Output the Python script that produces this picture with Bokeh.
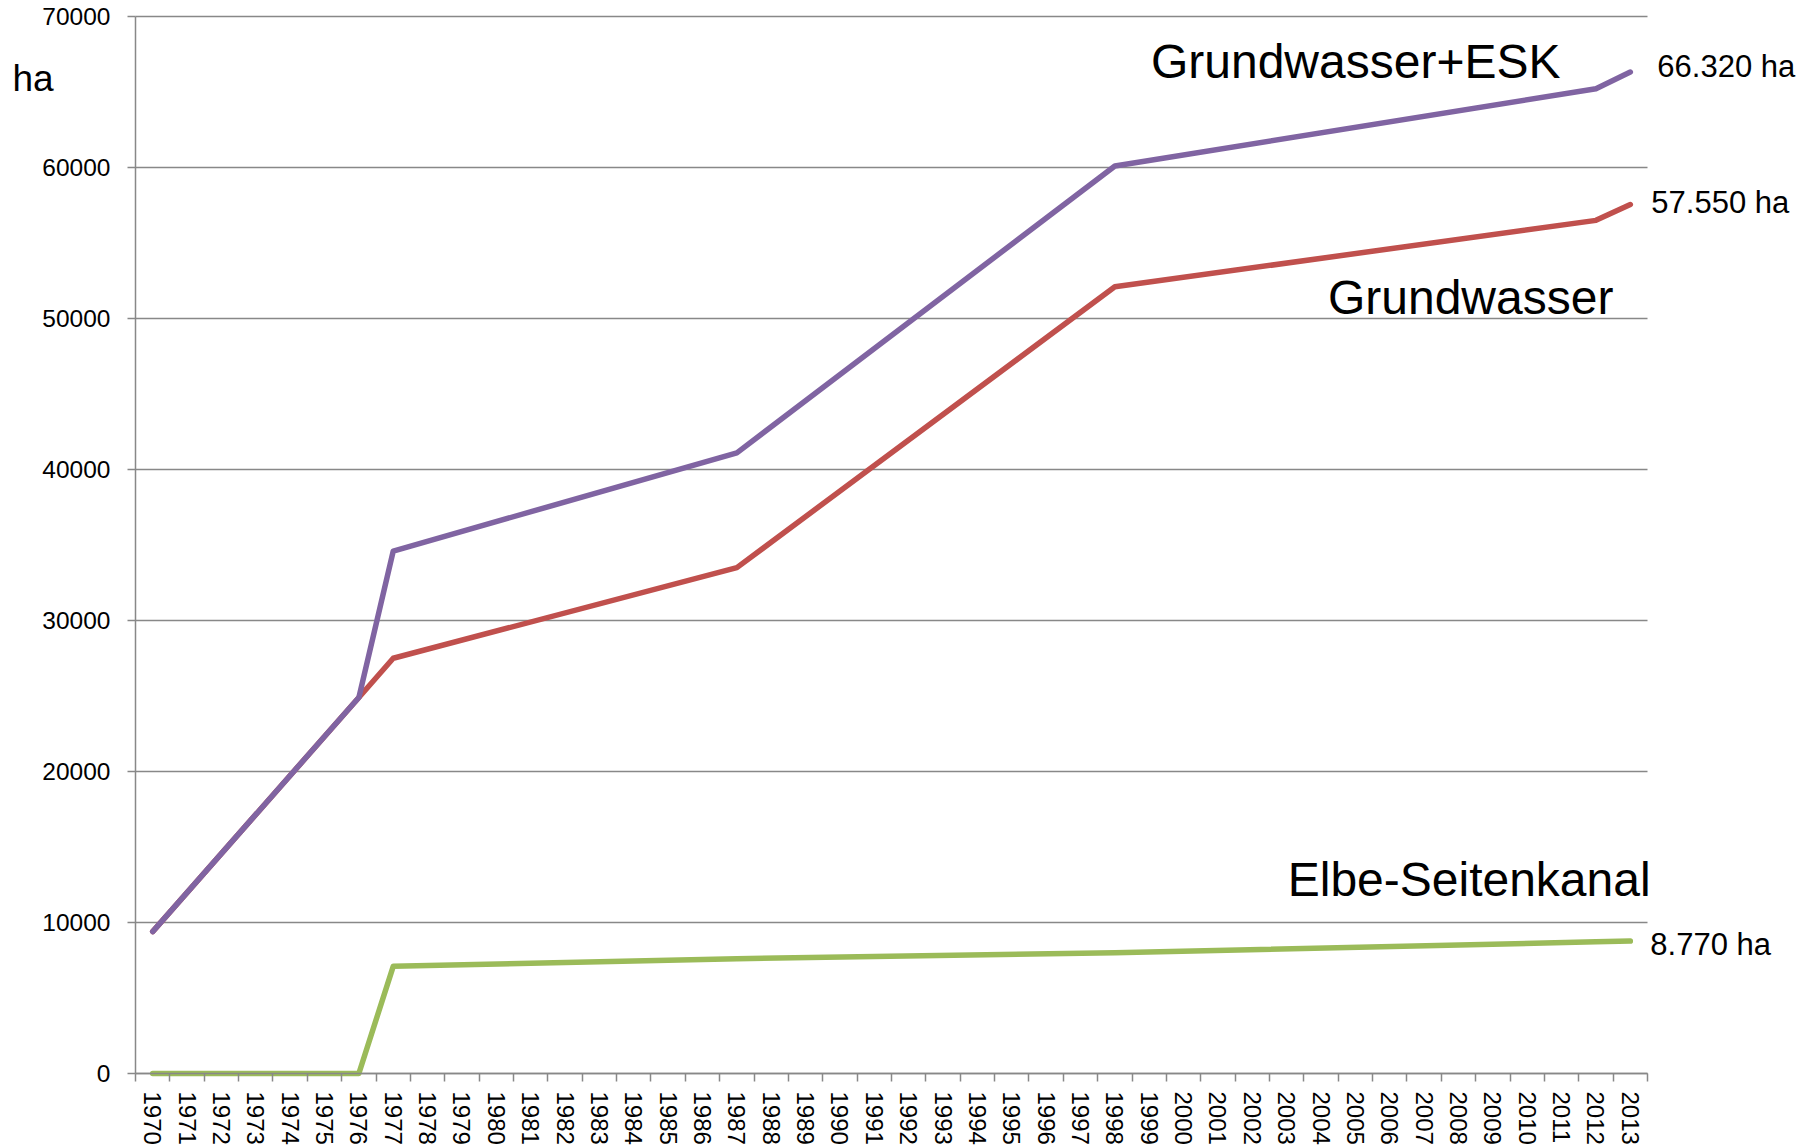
from bokeh.plotting import figure
from bokeh.models import FixedTicker, Label, Range1d, BasicTickFormatter
from bokeh.embed import file_html
from bokeh.resources import INLINE

# ---- data ----
years = list(range(1970, 2014))
year_labels = [str(y) for y in years]
key_years = [1970, 1976, 1977, 1987, 1998, 2012, 2013]
grundwasser_esk = [9400, 24900, 34600, 41100, 60100, 65220, 66320]
grundwasser = [9400, 24900, 27500, 33500, 52100, 56500, 57550]
elbe_seitenkanal = [0, 0, 7100, 7600, 8000, 8720, 8770]
y_ticks = [0, 10000, 20000, 30000, 40000, 50000, 60000, 70000]
series_names = ["Grundwasser+ESK", "Grundwasser", "Elbe-Seitenkanal"]
end_labels = ["66.320 ha", "57.550 ha", "8.770 ha"]
unit_label = "ha"

FONT = "Liberation Sans"
GRID = "#888888"
PURPLE = "#8064A2"
RED = "#C0504D"
GREEN = "#9BBB59"

# ---- layout (pixels) ----
W, H = 1813, 1146
AX_LEFT, AX_RIGHT, AX_TOP, AX_BOTTOM = 135, 1647, 16, 1073
x0, x1 = years[0] - 0.5, years[-1] + 0.5
px_per_year = (AX_RIGHT - AX_LEFT) / (x1 - x0)
px_per_unit = (AX_BOTTOM - AX_TOP) / (y_ticks[-1] - y_ticks[0])
x_start = x0 - AX_LEFT / px_per_year
x_end = x1 + (W - AX_RIGHT) / px_per_year
y_end = y_ticks[-1] + AX_TOP / px_per_unit
y_start = y_ticks[0] - (H - AX_BOTTOM) / px_per_unit

p = figure(width=W, height=H,
           x_range=Range1d(x_start, x_end),
           y_range=Range1d(y_start, y_end),
           output_backend="svg", toolbar_location=None,
           min_border_left=0, min_border_top=0,
           min_border_right=0, min_border_bottom=0)
p.outline_line_color = None
p.background_fill_color = "white"
p.border_fill_color = "white"
p.xgrid.visible = False
p.ygrid.visible = False

# gridlines limited to the plot area
n = len(y_ticks)
p.segment(x0=[x0] * n, y0=y_ticks, x1=[x1] * n, y1=y_ticks,
          line_color=GRID, line_width=1.5, level="underlay")

xa = p.xaxis[0]
xa.fixed_location = y_ticks[0]
xa.bounds = (x0, x1)
xa.ticker = FixedTicker(ticks=years, minor_ticks=[y - 0.5 for y in years] + [x1])
xa.major_label_overrides = {y: s for y, s in zip(years, year_labels)}
xa.major_label_orientation = "vertical"
xa.major_label_text_font = FONT
xa.major_label_text_font_size = "24px"
xa.major_label_text_color = "black"
xa.major_label_standoff = 10
xa.major_tick_line_color = None
xa.major_tick_out = 8
xa.major_tick_in = 0
xa.minor_tick_line_color = GRID
xa.minor_tick_line_width = 1.5
xa.minor_tick_out = 8
xa.minor_tick_in = 0
xa.axis_line_color = GRID
xa.axis_line_width = 1.5

ya = p.yaxis[0]
ya.fixed_location = x0
ya.bounds = (y_ticks[0], y_ticks[-1])
ya.ticker = FixedTicker(ticks=y_ticks)
ya.formatter = BasicTickFormatter(use_scientific=False)
ya.major_label_text_font = FONT
ya.major_label_text_font_size = "24.5px"
ya.major_label_text_color = "black"
ya.major_label_standoff = 17
ya.major_tick_line_color = GRID
ya.major_tick_line_width = 1.5
ya.major_tick_out = 8
ya.major_tick_in = 0
ya.minor_tick_line_color = None
ya.axis_line_color = GRID
ya.axis_line_width = 1.5

# lines
p.line(key_years, elbe_seitenkanal, line_color=GREEN, line_width=5.5, line_cap="round", line_join="round")
p.line(key_years, grundwasser, line_color=RED, line_width=5.5, line_cap="round", line_join="round")
p.line(key_years, grundwasser_esk, line_color=PURPLE, line_width=5.5, line_cap="round", line_join="round")

# end value labels
for val, txt, dx, dy in [(grundwasser_esk[-1], end_labels[0], 27, 6),
                         (grundwasser[-1], end_labels[1], 21, 2),
                         (elbe_seitenkanal[-1], end_labels[2], 20, -3)]:
    p.add_layout(Label(x=key_years[-1], y=val, x_offset=dx, y_offset=dy, text=txt,
                       text_font=FONT, text_font_size="31px", text_color="black",
                       text_baseline="alphabetic", text_align="left"))

# series names
for name, xx, yy in [(series_names[0], 1999.05, 65850),
                     (series_names[1], 2004.2, 50230),
                     (series_names[2], 2003.03, 11640)]:
    p.add_layout(Label(x=xx, y=yy, y_offset=18, text=name, text_font=FONT, text_font_size="48px",
                       text_color="black", text_baseline="alphabetic", text_align="left"))

# unit label
p.add_layout(Label(x=x0, y=65050, x_offset=-123, y_offset=13, text=unit_label,
                   text_font=FONT, text_font_size="37px", text_color="black",
                   text_baseline="alphabetic", text_align="left"))

open("out.html", "w").write(file_html(p, INLINE))
